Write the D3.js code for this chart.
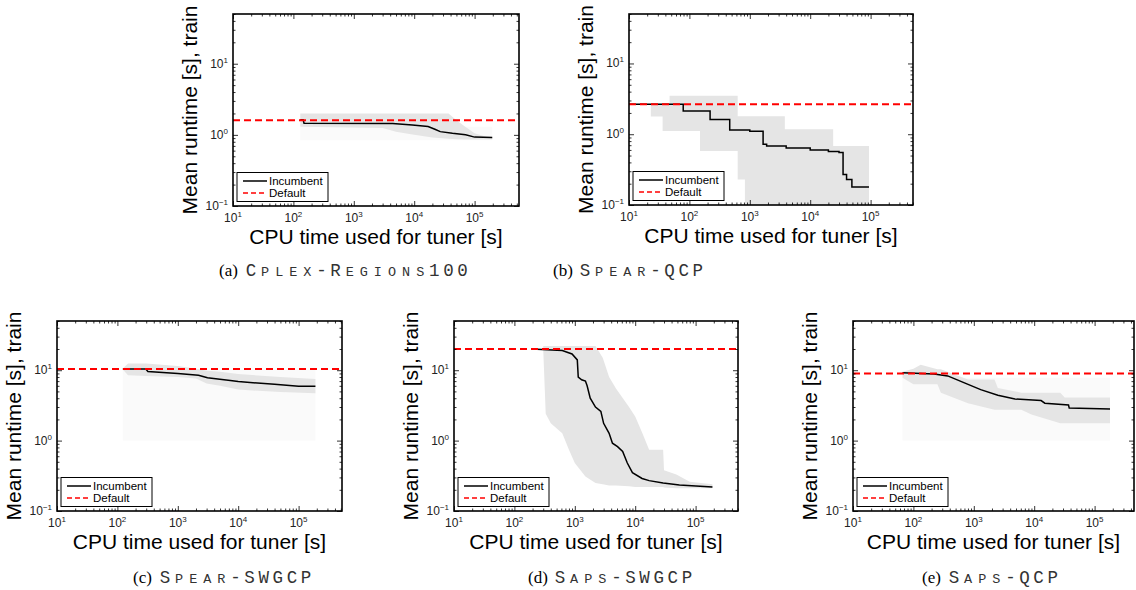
<!DOCTYPE html>
<html>
<head>
<meta charset="utf-8">
<script src="https://cdn.jsdelivr.net/npm/d3@7.9.0/dist/d3.min.js"></script>
<style>
  body { margin: 0; background: #fff; }
  svg { display: block; }
</style>
</head>
<body>
<svg id="fig" width="1136" height="590"></svg>
<script>
// ---- data ----
const panelIds = ['a', 'b', 'c', 'd', 'e'];
const captionNames = ['Cplex-Regions100', 'Spear-QCP', 'Spear-SWGCP', 'Saps-SWGCP', 'Saps-QCP'];
const defaultRuntime = [1.6, 2.65, 10.4, 20, 9.0];

const incX = [
  [130, 145, 150, 4400, 9300, 17000, 22000, 27000, 43000, 71000, 100000, 196000],
  [10, 79, 220, 465, 1000, 1660, 1900, 4000, 10000, 20000, 30000, 35000, 40000, 49000, 94000],
  [123, 295, 320, 1000, 2200, 3100, 8000, 10000, 40000, 100000, 190000],
  [195, 620, 900, 1100, 1140, 1300, 1500, 1600, 1800, 2200, 2700, 3000, 3700, 4200, 5100, 6200, 7400, 9000, 13000, 17000, 29000, 54000, 190000],
  [66, 220, 370, 700, 1300, 2500, 4800, 13000, 15000, 37000, 38000, 180000]
];
const incY = [
  [1.63, 1.63, 1.46, 1.45, 1.38, 1.31, 1.2, 1.11, 1.05, 1.0, 0.93, 0.92],
  [2.65, 2.13, 1.62, 1.15, 1.1, 0.72, 0.68, 0.64, 0.6, 0.57, 0.55, 0.27, 0.23, 0.18, 0.18],
  [10.4, 10.4, 9.6, 9.0, 8.5, 7.8, 7.1, 6.9, 6.3, 5.9, 5.9],
  [20, 19, 17, 14, 8, 7.3, 7.0, 6.0, 4.0, 3.0, 2.6, 1.76, 1.27, 0.92, 0.82, 0.7, 0.48, 0.35, 0.29, 0.27, 0.25, 0.235, 0.22],
  [9.2, 8.8, 8.3, 6.6, 5.3, 4.4, 3.9, 3.7, 3.4, 3.2, 2.9, 2.8]
];

const bandX = [
  [130, 3000, 5000, 10000, 20000, 37000, 50000, 70000, 100000, 150000, 196000],
  [23, 36, 47, 150, 630, 830, 3800, 24000, 94000],
  [123, 150, 300, 1000, 2000, 3000, 5000, 10000, 50000, 190000],
  [300, 330, 400, 620, 800, 1000, 1500, 2200, 2900, 3700, 4800, 7900, 10000, 13000, 17000, 29000, 30000, 48000, 80000, 190000],
  [66, 100, 132, 250, 285, 800, 2200, 2500, 6100, 9000, 27000, 32000, 180000]
];
const bandHi = [
  [2.0, 2.0, 2.0, 2.0, 2.0, 2.0, 1.6, 1.3, 1.05, 0.95, 0.93],
  [2.7, 2.7, 3.5, 3.5, 1.8, 1.8, 1.18, 0.68, 0.68],
  [10.6, 12.5, 12.5, 11.5, 10.5, 9.8, 9.5, 8.8, 8.0, 7.5],
  [22, 22, 22, 22, 22, 22, 22, 22, 15, 8, 5.5, 3.0, 2.2, 1.3, 0.74, 0.74, 0.38, 0.33, 0.26, 0.24],
  [9.5, 10.5, 12, 10.3, 10.3, 7.4, 7.4, 5.6, 4.8, 4.8, 4.8, 4.1, 4.1]
];
const bandLo = [
  [1.3, 1.25, 1.11, 1.0, 0.92, 0.88, 0.87, 0.86, 0.86, 0.86, 0.86],
  [1.78, 1.11, 1.11, 0.58, 0.23, 0.05, 0.05, 0.05, 0.05],
  [10.2, 8.5, 8.3, 8.0, 7.6, 6.5, 6.0, 5.3, 4.9, 4.7],
  [20, 2.4, 1.76, 1.27, 0.74, 0.48, 0.31, 0.25, 0.24, 0.23, 0.23, 0.225, 0.22, 0.22, 0.22, 0.22, 0.215, 0.21, 0.21, 0.21],
  [7.8, 6.3, 6.3, 6.3, 4.8, 3.4, 2.75, 2.75, 2.75, 2.35, 1.77, 1.77, 1.77]
];
// faint fill under the band (a matlab artefact), null where absent
const faintFloor = [0.84, null, 1.0, null, 1.0];
const stepped = [false, true, false, false, false];

const xTicks = [10, 100, 1000, 10000, 100000];
const yTicks = [0.1, 1, 10];
const legendLabels = ['Incumbent', 'Default'];

// ---- layout ----
const layout = [
  { left: 233, top: 14, w: 286, h: 192, cap: [219, 276] },
  { left: 629, top: 14, w: 284, h: 191, cap: [553, 276] },
  { left: 57, top: 321, w: 285, h: 190, cap: [133, 583] },
  { left: 454, top: 321, w: 284, h: 190, cap: [528, 583] },
  { left: 853, top: 321, w: 281, h: 190, cap: [922, 583] }
];
const decade = 60.4;

const svg = d3.select('#fig');
const sans = 'Liberation Sans, Arial, sans-serif';

panelIds.forEach((id, i) => {
  const L = layout[i];
  const g = svg.append('g').attr('transform', `translate(${L.left},${L.top})`);
  const x = d3.scaleLog().domain([10, Math.pow(10, 1 + L.w / decade)]).range([0, L.w]);
  const y = d3.scaleLog().domain([0.1, 50]).range([L.h, 0]);

  g.append('clipPath').attr('id', 'clip' + id)
    .append('rect').attr('width', L.w).attr('height', L.h);
  const plot = g.append('g').attr('clip-path', `url(#clip${id})`);

  const band = bandX[i].map((v, k) => ({ x: v, lo: bandLo[i][k], hi: bandHi[i][k] }));
  const inc = incX[i].map((v, k) => ({ x: v, y: incY[i][k] }));
  const curve = stepped[i] ? d3.curveStepAfter : d3.curveLinear;

  if (faintFloor[i] !== null) {
    const x0 = x(d3.min(bandX[i])), x1 = x(d3.max(bandX[i]));
    const yTop = y(d3.max(bandLo[i]));
    plot.append('rect')
      .attr('x', x0).attr('width', x1 - x0)
      .attr('y', yTop).attr('height', y(faintFloor[i]) - yTop)
      .attr('fill', '#fafafa');
  }

  plot.append('path')
    .attr('d', d3.area().curve(curve).x(d => x(d.x)).y0(d => y(d.lo)).y1(d => y(d.hi))(band))
    .attr('fill', '#e5e5e5');

  plot.append('path')
    .attr('d', d3.line().curve(curve).x(d => x(d.x)).y(d => y(d.y))(inc))
    .attr('fill', 'none').attr('stroke', '#000').attr('stroke-width', 1.5);

  plot.append('line')
    .attr('x1', 0).attr('x2', L.w)
    .attr('y1', y(defaultRuntime[i])).attr('y2', y(defaultRuntime[i]))
    .attr('stroke', '#ff0000').attr('stroke-width', 2).attr('stroke-dasharray', '7,4');

  // ticks (inside, all four sides)
  const xMinor = x.ticks().filter(t => !xTicks.includes(t));
  const yMinor = y.ticks().filter(t => !yTicks.includes(t));
  const tickStyle = a => a.call(s => s.select('.domain').remove())
    .call(s => s.selectAll('line').attr('stroke', '#000').attr('stroke-width', 0.8));
  g.append('g').attr('transform', `translate(0,${L.h})`)
    .call(d3.axisBottom(x).tickValues(xTicks).tickSize(-5).tickFormat('')).call(tickStyle);
  g.append('g').attr('transform', `translate(0,${L.h})`)
    .call(d3.axisBottom(x).tickValues(xMinor).tickSize(-2.5).tickFormat('')).call(tickStyle);
  g.append('g')
    .call(d3.axisTop(x).tickValues(xTicks).tickSize(-5).tickFormat('')).call(tickStyle);
  g.append('g')
    .call(d3.axisTop(x).tickValues(xMinor).tickSize(-2.5).tickFormat('')).call(tickStyle);
  g.append('g')
    .call(d3.axisLeft(y).tickValues(yTicks).tickSize(-5).tickFormat('')).call(tickStyle);
  g.append('g')
    .call(d3.axisLeft(y).tickValues(yMinor).tickSize(-2.5).tickFormat('')).call(tickStyle);
  g.append('g').attr('transform', `translate(${L.w},0)`)
    .call(d3.axisRight(y).tickValues(yTicks).tickSize(-5).tickFormat('')).call(tickStyle);
  g.append('g').attr('transform', `translate(${L.w},0)`)
    .call(d3.axisRight(y).tickValues(yMinor).tickSize(-2.5).tickFormat('')).call(tickStyle);

  g.append('rect').attr('width', L.w).attr('height', L.h)
    .attr('fill', 'none').attr('stroke', '#000').attr('stroke-width', 1.6);

  // tick labels 10^k
  const expLabel = (sel, v) => {
    sel.append('tspan').text('10');
    sel.append('tspan').attr('font-size', 8).attr('dy', -5).text(Math.round(Math.log10(v)) < 0 ? '\u22121' : Math.round(Math.log10(v)));
  };
  xTicks.forEach(v => {
    const t = g.append('text').attr('x', x(v)).attr('y', L.h + 16)
      .attr('text-anchor', 'middle').attr('font-family', sans).attr('font-size', 12).attr('fill', '#222');
    expLabel(t, v);
  });
  yTicks.forEach(v => {
    const t = g.append('text').attr('x', -5).attr('y', y(v) + 4)
      .attr('text-anchor', 'end').attr('font-family', sans).attr('font-size', 12).attr('fill', '#222');
    expLabel(t, v);
  });

  // axis titles
  g.append('text').attr('x', L.w / 2).attr('y', L.h + 38)
    .attr('text-anchor', 'middle').attr('font-family', sans).attr('font-size', 21)
    .text('CPU time used for tuner [s]');
  g.append('text').attr('transform', `translate(-36,${L.h / 2}) rotate(-90)`)
    .attr('text-anchor', 'middle').attr('font-family', sans).attr('font-size', 21)
    .text('Mean runtime [s], train');

  // legend
  const lg = g.append('g').attr('transform', `translate(4,${L.h - 33.5})`);
  lg.append('rect').attr('width', 91).attr('height', 29)
    .attr('fill', '#fff').attr('stroke', '#000').attr('stroke-width', 1);
  lg.append('line').attr('x1', 6).attr('x2', 30).attr('y1', 8.5).attr('y2', 8.5)
    .attr('stroke', '#000').attr('stroke-width', 1.5);
  lg.append('line').attr('x1', 6).attr('x2', 30).attr('y1', 20.5).attr('y2', 20.5)
    .attr('stroke', '#ff0000').attr('stroke-width', 1.5).attr('stroke-dasharray', '5,3');
  legendLabels.forEach((s, k) => {
    lg.append('text').attr('x', 32).attr('y', 12.5 + k * 12)
      .attr('font-family', sans).attr('font-size', 11.5).text(s);
  });

  // caption: "(a)" + small-caps monospace name
  const cap = svg.append('g').attr('transform', `translate(${L.cap[0]},${L.cap[1]})`);
  cap.append('text').attr('font-family', 'Liberation Serif, Times New Roman, serif')
    .attr('font-size', 17).text(`(${id})`);
  const pitch = 14.1;
  captionNames[i].split('').forEach((c, k) => {
    const small = c >= 'a' && c <= 'z';
    cap.append('text').attr('x', 32 + k * pitch).attr('text-anchor', 'middle')
      .attr('font-family', 'Liberation Mono, Courier New, monospace')
      .attr('font-size', small ? 13.5 : 17.5).attr('fill', '#333')
      .text(c.toUpperCase());
  });
});
</script>
</body>
</html>
